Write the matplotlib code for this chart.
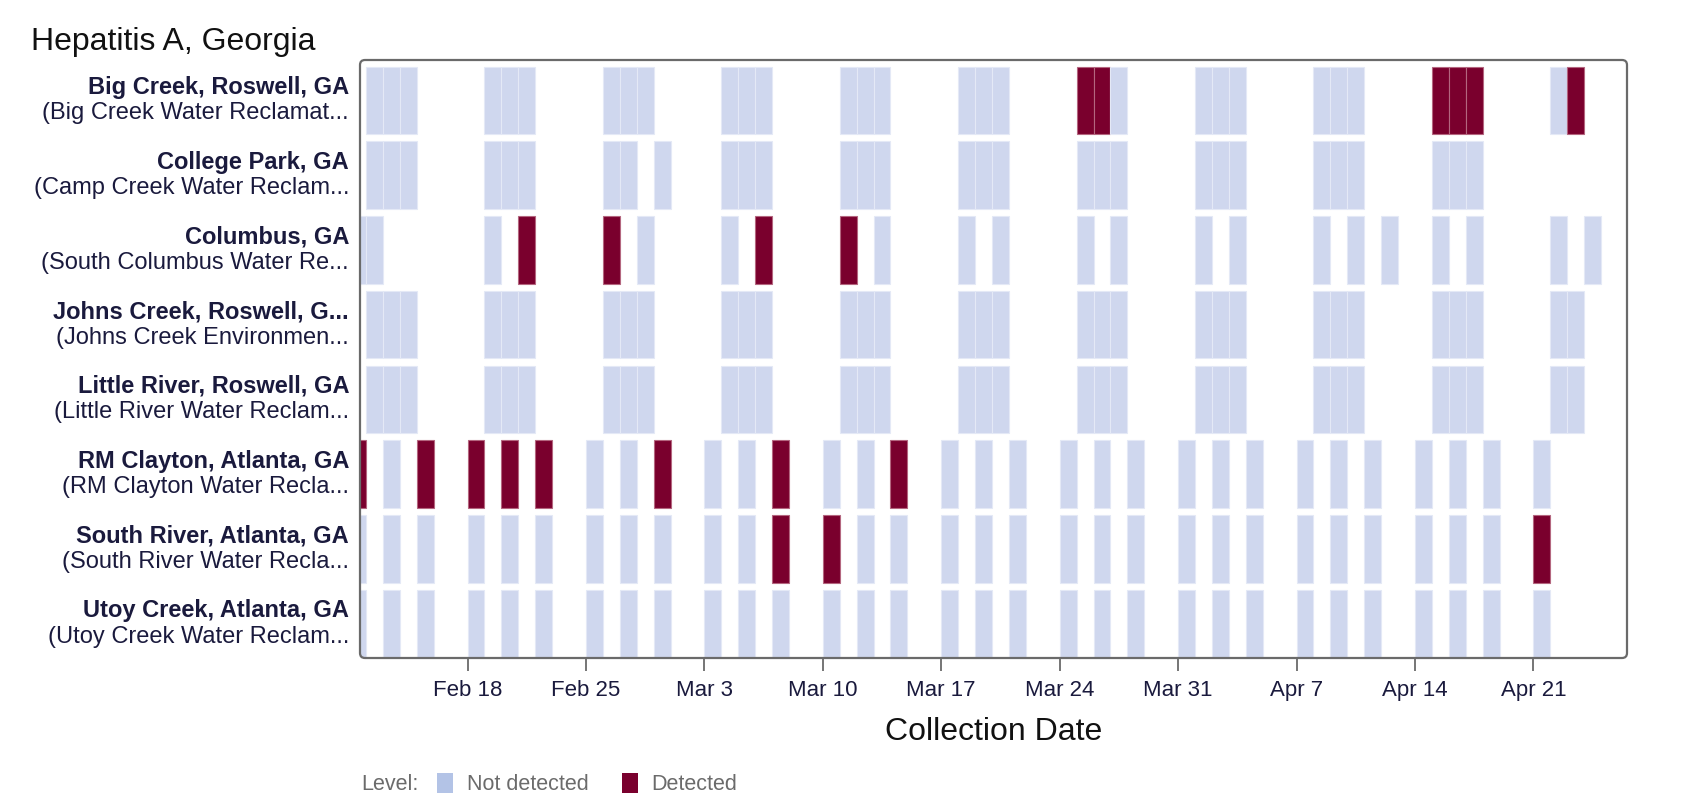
import matplotlib
matplotlib.use("Agg")
import matplotlib.pyplot as plt
import matplotlib.dates as mdates
import matplotlib.transforms as mtransforms
from matplotlib.patches import Patch, FancyBboxPatch
import pandas as pd

plt.rcParams['font.family'] = ['Liberation Sans', 'DejaVu Sans']

title = "Hepatitis A, Georgia"

site_names = [
    "Big Creek, Roswell, GA",
    "College Park, GA",
    "Columbus, GA",
    "Johns Creek, Roswell, G...",
    "Little River, Roswell, GA",
    "RM Clayton, Atlanta, GA",
    "South River, Atlanta, GA",
    "Utoy Creek, Atlanta, GA",
]
plant_names = [
    "(Big Creek Water Reclamat...",
    "(Camp Creek Water Reclam...",
    "(South Columbus Water Re...",
    "(Johns Creek Environmen...",
    "(Little River Water Reclam...",
    "(RM Clayton Water Recla...",
    "(South River Water Recla...",
    "(Utoy Creek Water Reclam...",
]

# Mon-Tue-Wed sampling sites
big_creek_dates = ["2024-02-12", "2024-02-13", "2024-02-14", "2024-02-19", "2024-02-20", "2024-02-21",
                   "2024-02-26", "2024-02-27", "2024-02-28", "2024-03-04", "2024-03-05", "2024-03-06",
                   "2024-03-11", "2024-03-12", "2024-03-13", "2024-03-18", "2024-03-19", "2024-03-20",
                   "2024-03-25", "2024-03-26", "2024-03-27", "2024-04-01", "2024-04-02", "2024-04-03",
                   "2024-04-08", "2024-04-09", "2024-04-10", "2024-04-15", "2024-04-16", "2024-04-17",
                   "2024-04-22", "2024-04-23"]
big_creek_detected = ["2024-03-25", "2024-03-26", "2024-04-15", "2024-04-16", "2024-04-17", "2024-04-23"]

college_park_dates = ["2024-02-12", "2024-02-13", "2024-02-14", "2024-02-19", "2024-02-20", "2024-02-21",
                      "2024-02-26", "2024-02-27", "2024-02-29", "2024-03-04", "2024-03-05", "2024-03-06",
                      "2024-03-11", "2024-03-12", "2024-03-13", "2024-03-18", "2024-03-19", "2024-03-20",
                      "2024-03-25", "2024-03-26", "2024-03-27", "2024-04-01", "2024-04-02", "2024-04-03",
                      "2024-04-08", "2024-04-09", "2024-04-10", "2024-04-15", "2024-04-16", "2024-04-17"]
college_park_detected = []

columbus_dates = ["2024-02-11", "2024-02-12", "2024-02-19", "2024-02-21", "2024-02-26", "2024-02-28",
                  "2024-03-04", "2024-03-06", "2024-03-11", "2024-03-13", "2024-03-18", "2024-03-20",
                  "2024-03-25", "2024-03-27", "2024-04-01", "2024-04-03", "2024-04-08", "2024-04-10",
                  "2024-04-12", "2024-04-15", "2024-04-17", "2024-04-22", "2024-04-24"]
columbus_detected = ["2024-02-21", "2024-02-26", "2024-03-06", "2024-03-11"]

johns_creek_dates = list(big_creek_dates)
johns_creek_detected = []

little_river_dates = list(big_creek_dates)
little_river_detected = []

# Sun-Tue-Thu sampling sites
rm_clayton_dates = ["2024-02-11", "2024-02-13", "2024-02-15", "2024-02-18", "2024-02-20", "2024-02-22",
                    "2024-02-25", "2024-02-27", "2024-02-29", "2024-03-03", "2024-03-05", "2024-03-07",
                    "2024-03-10", "2024-03-12", "2024-03-14", "2024-03-17", "2024-03-19", "2024-03-21",
                    "2024-03-24", "2024-03-26", "2024-03-28", "2024-03-31", "2024-04-02", "2024-04-04",
                    "2024-04-07", "2024-04-09", "2024-04-11", "2024-04-14", "2024-04-16", "2024-04-18",
                    "2024-04-21"]
rm_clayton_detected = ["2024-02-11", "2024-02-15", "2024-02-18", "2024-02-20", "2024-02-22",
                       "2024-02-29", "2024-03-07", "2024-03-14"]

south_river_dates = list(rm_clayton_dates)
south_river_detected = ["2024-03-07", "2024-03-10", "2024-04-21"]

utoy_creek_dates = list(rm_clayton_dates)
utoy_creek_detected = []

site_dates = [big_creek_dates, college_park_dates, columbus_dates, johns_creek_dates,
              little_river_dates, rm_clayton_dates, south_river_dates, utoy_creek_dates]
site_detected = [big_creek_detected, college_park_detected, columbus_detected, johns_creek_detected,
                 little_river_detected, rm_clayton_detected, south_river_detected, utoy_creek_detected]

tick_dates = ["2024-02-18", "2024-02-25", "2024-03-03", "2024-03-10", "2024-03-17",
              "2024-03-24", "2024-03-31", "2024-04-07", "2024-04-14", "2024-04-21"]
tick_labels = ["Feb 18", "Feb 25", "Mar 3", "Mar 10", "Mar 17", "Mar 24", "Mar 31", "Apr 7", "Apr 14", "Apr 21"]

x_start = "2024-02-11 15:30"
x_end = "2024-04-26 12:45"

COL_ND = "#cfd7ee"
COL_ND_EDGE = "#e4e9f6"
COL_D = "#7a002d"
COL_D_EDGE = "#b4667f"
LEG_ND = "#b3c3e6"
LEG_D = "#7a002e"
TXT = "#1a1a3d"
SPINE = "#6a6a6a"

W, H = 1702, 810
fig = plt.figure(figsize=(W / 100, H / 100), dpi=100)
ax = fig.add_axes([360 / W, 1 - 658 / H, (1627 - 360) / W, (658 - 60) / H])

for i, (dates, det) in enumerate(zip(site_dates, site_detected)):
    d = pd.to_datetime(dates)
    detset = set(pd.to_datetime(det))
    is_det = [x in detset for x in d]
    xs = mdates.date2num(d.to_pydatetime())
    colors = [COL_D if f else COL_ND for f in is_det]
    edges = [COL_D_EDGE if f else COL_ND_EDGE for f in is_det]
    ax.bar(xs, 0.9, width=1.0, bottom=i - 0.45 + 0.04, align='edge', color=colors,
           edgecolor=edges, linewidth=0.8, zorder=2)

ax.set_xlim(mdates.date2num(pd.Timestamp(x_start)), mdates.date2num(pd.Timestamp(x_end)))
ax.set_ylim(len(site_names) - 0.5, -0.5)
ax.set_yticks([])
ax.set_xticks(mdates.date2num(pd.to_datetime(tick_dates).to_pydatetime()))
ax.set_xticklabels(tick_labels, fontsize=16, color=TXT)
ax.tick_params(axis='x', length=9, width=1.3, color=SPINE, pad=7)
for s in ax.spines.values():
    s.set_visible(False)

# rounded axes frame
frame = FancyBboxPatch((360, H - 658), 1627 - 360, 658 - 60,
                       boxstyle="round,pad=0,rounding_size=5",
                       transform=mtransforms.IdentityTransform(),
                       fill=False, edgecolor=SPINE, linewidth=1.6, zorder=5)
fig.add_artist(frame)

ax.set_xlabel("Collection Date", fontsize=23, color='#111111', labelpad=11)

trans = ax.get_yaxis_transform()
for i, (nm, pl) in enumerate(zip(site_names, plant_names)):
    t1 = mtransforms.offset_copy(trans, fig=fig, x=-11, y=13, units='dots')
    t2 = mtransforms.offset_copy(trans, fig=fig, x=-11, y=-13, units='dots')
    ax.text(0, i + 0.04, nm, transform=t1, ha='right', va='center', fontsize=17,
            fontweight='bold', color=TXT)
    ax.text(0, i + 0.04, pl, transform=t2, ha='right', va='center', fontsize=17,
            color=TXT)

fig.text(31 / W, 1 - 50 / H, title, fontsize=23, color='#111111', ha='left', va='baseline')

fig.text(361 / W, 1 - 785 / H, "Level:", fontsize=15.5, color='#6b6b6b', ha='left', va='center')
handles = [Patch(facecolor=LEG_ND, edgecolor='none'), Patch(facecolor=LEG_D, edgecolor='none')]
fig.legend(handles, ["Not detected", "Detected"], loc='center left',
           bbox_to_anchor=(437 / W, 1 - 784 / H), ncol=2, frameon=False, fontsize=15.5,
           handlelength=0.74, handleheight=1.07, handletextpad=0.65, columnspacing=1.53,
           borderpad=0, borderaxespad=0, labelcolor='#6b6b6b')

fig.savefig("out.png", dpi=100)
